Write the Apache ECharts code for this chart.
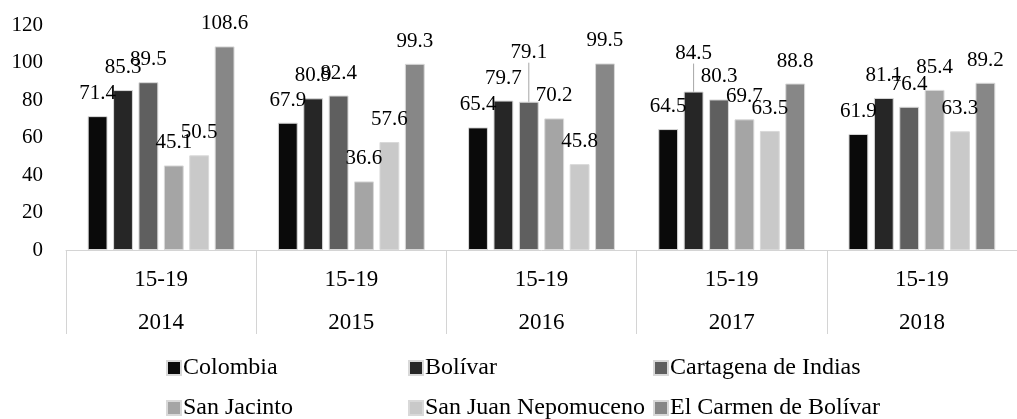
<!DOCTYPE html>
<html>
<head>
<meta charset="utf-8">
<script src="https://cdn.jsdelivr.net/npm/echarts@6/dist/echarts.min.js"></script>
<style>
html,body{margin:0;padding:0;background:#fff;}
#chart{width:1017px;height:419px;}
</style>
</head>
<body>
<div id="chart"></div>
<script>
const ageGroups = ['15-19','15-19','15-19','15-19','15-19'];
const years = ['2014','2015','2016','2017','2018'];
const yTicks = [0,20,40,60,80,100,120];
const seriesNames = ['Colombia','Bolívar','Cartagena de Indias','San Jacinto','San Juan Nepomuceno','El Carmen de Bolívar'];
const colombia = [71.4, 67.9, 65.4, 64.5, 61.9];
const bolivar = [85.3, 80.9, 79.7, 84.5, 81.1];
const cartagena = [89.5, 82.4, 79.1, 80.3, 76.4];
const sanJacinto = [45.1, 36.6, 70.2, 69.7, 85.4];
const sanJuan = [50.5, 57.6, 45.8, 63.5, 63.3];
const elCarmen = [108.6, 99.3, 99.5, 88.8, 89.2];
const seriesValues = [colombia, bolivar, cartagena, sanJacinto, sanJuan, elCarmen];
const colors = ['#0a0a0a','#262626','#5f5f5f','#a5a5a5','#c9c9c9','#878787'];

const FONT = "'Liberation Serif','Times New Roman',serif";
const chart = echarts.init(document.getElementById('chart'));

// labels moved manually in the reference (series index, data index, dy)
const moved = {'2_2': -27, '1_3': -16};

const legendPos = [[166,356],[408,356],[653,356],[166,396],[408,396],[653,396]];
const legends = seriesNames.map((n,i)=>({
  data:[n], left:legendPos[i][0], top:legendPos[i][1], icon:'rect',
  itemWidth:14, itemHeight:14, padding:0,
  textStyle:{fontFamily:FONT,fontSize:24,color:'#000',padding:[0,0,0,-3]}
}));

chart.setOption({
  animation:false,
  color:colors,
  legend:legends,
  grid:{left:66,right:-8,top:25,bottom:169,containLabel:false},
  xAxis:[
    {type:'category',data:ageGroups,position:'bottom',
     axisLine:{show:true,lineStyle:{color:'#d4d4d4',width:1}},
     axisTick:{show:true,length:84,lineStyle:{color:'#d4d4d4'}},
     axisLabel:{margin:18,fontFamily:FONT,fontSize:23,color:'#000'}},
    {type:'category',data:years,position:'bottom',
     axisLine:{show:false},axisTick:{show:false},
     axisLabel:{margin:61,fontFamily:FONT,fontSize:23,color:'#000'}}
  ],
  yAxis:{type:'value',min:yTicks[0],max:yTicks[yTicks.length-1],interval:20,
    splitLine:{show:false},axisLine:{show:false},axisTick:{show:false},
    axisLabel:{margin:23,fontFamily:FONT,fontSize:21,color:'#000'}},
  series:seriesValues.map((vals,si)=>({
    name:seriesNames[si],type:'bar',xAxisIndex:0,
    data:vals.map((v,di)=>{
      const k = si+'_'+di;
      if(moved[k]!==undefined) return {value:v,labelLine:{show:true,lineStyle:{color:'#a6a6a6',width:1}}};
      return {value:v};
    }),
    barGap:'28%',barCategoryGap:'22.8%',
    itemStyle:{borderColor:'#d9d9d9',borderWidth:1},
    label:{show:true,position:'top',distance:12,fontFamily:FONT,fontSize:21,color:'#000'},
    labelLine:{show:false},
    labelLayout:function(p){
      const k = p.seriesIndex+'_'+p.dataIndex;
      if(moved[k]!==undefined) return {dy:moved[k]};
      return {};
    }
  }))
});
</script>
</body>
</html>
